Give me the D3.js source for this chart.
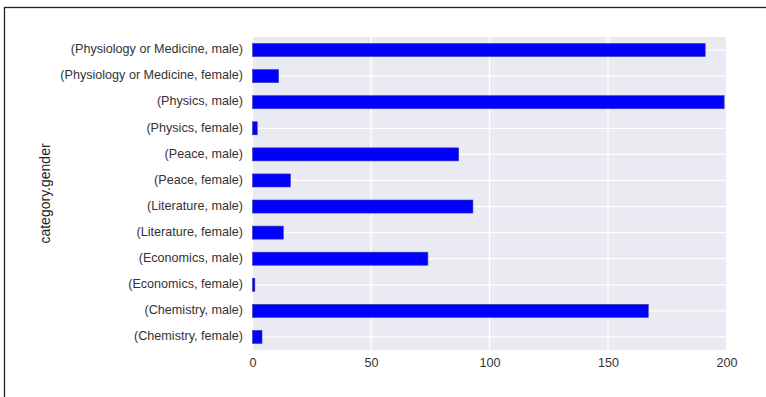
<!DOCTYPE html>
<html><head><meta charset="utf-8">
<script src="https://cdn.jsdelivr.net/npm/d3@7"></script>
<style>body{margin:0;background:#fff;} svg{display:block;}</style>
</head><body>
<svg id="chart" width="766" height="397"></svg>
<script>
const categories = ["(Chemistry, female)","(Chemistry, male)","(Economics, female)","(Economics, male)","(Literature, female)","(Literature, male)","(Peace, female)","(Peace, male)","(Physics, female)","(Physics, male)","(Physiology or Medicine, female)","(Physiology or Medicine, male)"];
const counts = [4,167,1,74,13,93,16,87,2,199,11,191];
const xTicks = [0,50,100,150,200];
const yLabel = "category.gender";

const svg = d3.select("#chart");
const m = {left:252.5, right:726.5, top:37, bottom:350};
const font = "Liberation Sans, Arial, sans-serif";

// figure frame
svg.append("rect").attr("x",4.5).attr("y",7.5).attr("width",800).attr("height",450)
  .attr("fill","#fff").attr("stroke","#222").attr("stroke-width",1.3);

const x = d3.scaleLinear().domain([0,200]).range([m.left,m.right]);
const y = d3.scaleBand().domain(categories.slice().reverse()).range([m.top,m.bottom]).paddingInner(0.5).paddingOuter(0.25);

svg.append("rect").attr("x",m.left).attr("y",m.top).attr("width",m.right-m.left).attr("height",m.bottom-m.top).attr("fill","#EAEAF2");

// grid
svg.append("g").selectAll("line").data(xTicks).join("line")
  .attr("x1",d=>x(d)).attr("x2",d=>x(d)).attr("y1",m.top).attr("y2",m.bottom)
  .attr("stroke","#fff").attr("stroke-width",1.3);
svg.append("g").selectAll("line").data(categories).join("line")
  .attr("x1",m.left).attr("x2",m.right).attr("y1",d=>y(d)+y.bandwidth()/2).attr("y2",d=>y(d)+y.bandwidth()/2)
  .attr("stroke","#fff").attr("stroke-width",1.3);

// bars
svg.append("g").selectAll("rect").data(categories).join("rect")
  .attr("x",x(0)).attr("y",d=>y(d)).attr("height",y.bandwidth())
  .attr("width",d=>x(counts[categories.indexOf(d)])-x(0))
  .attr("fill","#0000FF").attr("stroke","#3a3aa0").attr("stroke-width",0.6);

// y axis
const yAxis = d3.axisLeft(y).tickSize(0).tickPadding(9.5);
const gy = svg.append("g").attr("transform",`translate(${m.left},-0.8)`).call(yAxis);
gy.select(".domain").remove();
gy.selectAll("text").attr("font-family",font).attr("font-size",12.6).attr("fill","#333");

// x axis
const xAxis = d3.axisBottom(x).tickValues(xTicks).tickSize(0).tickPadding(8.5);
const gx = svg.append("g").attr("transform",`translate(0,${m.bottom})`).call(xAxis);
gx.select(".domain").remove();
gx.selectAll("text").attr("font-family",font).attr("font-size",12.6).attr("fill","#333");

svg.append("text").attr("transform",`translate(50,${(m.top+m.bottom)/2}) rotate(-90)`)
  .attr("text-anchor","middle").attr("font-family",font)
  .attr("font-size",14).attr("fill","#222").text(yLabel);
</script>
</body></html>
